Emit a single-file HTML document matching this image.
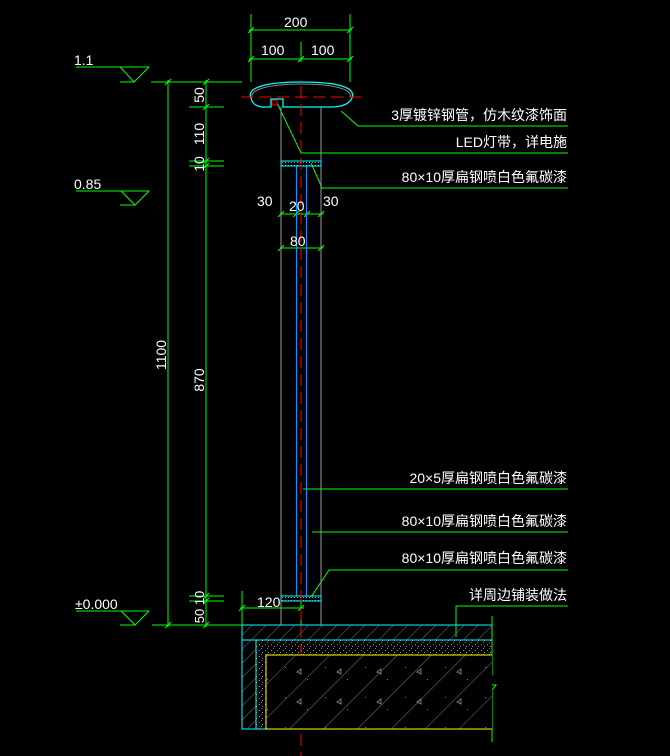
<!DOCTYPE html>
<html><head><meta charset="utf-8"><style>
html,body{margin:0;padding:0;background:#000;width:670px;height:756px;overflow:hidden}
svg text{font-family:"Liberation Sans","Noto Sans CJK SC",sans-serif;fill:#fff}
</style></head><body>
<svg width="670" height="756" viewBox="0 0 670 756" xmlns="http://www.w3.org/2000/svg">
<defs>
<pattern id="h1" width="10" height="10" patternUnits="userSpaceOnUse" patternTransform="rotate(45)">
<line x1="0" y1="0" x2="0" y2="10" stroke="#777" stroke-width="1"/></pattern>
<pattern id="h2" width="24" height="24" patternUnits="userSpaceOnUse" patternTransform="rotate(45)">
<line x1="0" y1="0" x2="0" y2="24" stroke="#777" stroke-width="1"/></pattern>
<pattern id="dots" width="6" height="6" patternUnits="userSpaceOnUse">
<rect x="1" y="2" width="1" height="1" fill="#888"/><rect x="4" y="4" width="1" height="1" fill="#999"/><rect x="3" y="0" width="1" height="1" fill="#777"/></pattern>
<pattern id="sp" width="40" height="30" patternUnits="userSpaceOnUse">
<rect x="5" y="7" width="1" height="1" fill="#888"/><rect x="27" y="19" width="1" height="1" fill="#888"/>
<path d="M17,12 l4,-3 l0,5 z" stroke="#777" fill="none" stroke-width="1"/></pattern>
<pattern id="xh" width="3" height="3" patternUnits="userSpaceOnUse"><rect width="1" height="1" fill="#999"/></pattern>
</defs>
<g fill="none" stroke-width="1">
<g stroke="#0f0">
<line x1="76" y1="67" x2="149" y2="67"/><polyline points="120,67 134,82 149,67"/><line x1="120" y1="82" x2="134" y2="82"/>
<line x1="76" y1="191" x2="149" y2="191"/><polyline points="121,191 135,205 149,191"/><line x1="120" y1="205" x2="135" y2="205"/>
<line x1="76" y1="611" x2="149" y2="611"/><polyline points="121,611 135,625 149,611"/><line x1="120" y1="625" x2="135" y2="625"/>
<line x1="151" y1="82" x2="242" y2="82"/>
<line x1="152" y1="625" x2="242" y2="625"/>
<line x1="168" y1="80" x2="168" y2="627"/>
<line x1="206" y1="80" x2="206" y2="627"/>
<line x1="189" y1="107" x2="224" y2="107"/>
<line x1="189" y1="161" x2="224" y2="161"/>
<line x1="189" y1="166" x2="224" y2="166"/>
<line x1="189" y1="596" x2="224" y2="596"/>
<line x1="189" y1="601" x2="224" y2="601"/>
<line x1="251" y1="14" x2="251" y2="82"/><line x1="350" y1="14" x2="350" y2="82"/>
<line x1="249" y1="30" x2="352" y2="30"/><line x1="249" y1="59" x2="352" y2="59"/>
<line x1="301" y1="42" x2="301" y2="62"/>
<line x1="280" y1="214" x2="323" y2="214"/><line x1="280" y1="248" x2="323" y2="248"/>
<line x1="296.5" y1="205" x2="296.5" y2="252"/><line x1="306.5" y1="205" x2="306.5" y2="252"/>
<line x1="242" y1="591" x2="242" y2="630"/><line x1="240" y1="608" x2="304" y2="608"/>
<line x1="301" y1="590" x2="301" y2="625"/>
<polyline points="341,111 358,126 568,126"/>
<polyline points="277,103 301,153 568,153"/>
<polyline points="311,163 322,188 568,188"/>
<line x1="303" y1="489" x2="568" y2="489"/>
<line x1="312" y1="532" x2="568" y2="532"/>
<polyline points="311,597 329,570 568,570"/>
<polyline points="456,637 456,606 568,606"/>
<polyline points="492,616 492,675 481,685 496,685 492,690 492,742"/>
</g>
<g stroke="#0f0">
<line x1="165" y1="85" x2="171" y2="79"/><line x1="203" y1="85" x2="209" y2="79"/>
<line x1="203" y1="110" x2="209" y2="104"/><line x1="203" y1="164" x2="209" y2="158"/>
<line x1="203" y1="169" x2="209" y2="163"/><line x1="203" y1="599" x2="209" y2="593"/>
<line x1="203" y1="604" x2="209" y2="598"/><line x1="165" y1="628" x2="171" y2="622"/><line x1="203" y1="628" x2="209" y2="622"/>
<line x1="248" y1="33" x2="254" y2="27"/><line x1="347" y1="33" x2="353" y2="27"/>
<line x1="248" y1="62" x2="254" y2="56"/><line x1="298" y1="62" x2="304" y2="56"/><line x1="347" y1="62" x2="353" y2="56"/>
<line x1="278" y1="217" x2="284" y2="211"/><line x1="293" y1="217" x2="299" y2="211"/><line x1="304" y1="217" x2="310" y2="211"/><line x1="318" y1="217" x2="324" y2="211"/>
<line x1="278" y1="251" x2="284" y2="245"/><line x1="318" y1="251" x2="324" y2="245"/>
<line x1="239" y1="611" x2="245" y2="605"/><line x1="298" y1="611" x2="304" y2="605"/>
</g>
<line x1="281" y1="107" x2="281" y2="625" stroke="#999"/>
<line x1="321" y1="107" x2="321" y2="625" stroke="#999"/>
<line x1="296.5" y1="166" x2="296.5" y2="596" stroke="#09f"/>
<line x1="306.5" y1="166" x2="306.5" y2="596" stroke="#09f"/>
<rect x="281" y="161" width="40" height="5" fill="url(#xh)" stroke="#0ff"/>
<rect x="281" y="596" width="40" height="5" fill="url(#xh)" stroke="#0ff"/>
<path d="M251,98 C246,88 265,82 301,82 C340,82 356,88 352,98 C349,105 340,107 330,107 L283,107 L283,99 L271,99 L271,107 L262,107 C255,106 252,103 251,98 Z" stroke="#0ff" stroke-width="1.3"/>
<path d="M252,97 C250,90 268,84 301,84 C336,84 353,90 350,97" stroke="#888"/>
<rect x="272" y="100" width="5" height="5" stroke="#f00"/>
<line x1="301" y1="86" x2="301" y2="756" stroke="#f00" stroke-dasharray="12,6"/>
<line x1="241" y1="97" x2="361" y2="97" stroke="#f00" stroke-dasharray="12,6"/>
<rect x="242" y="625" width="250" height="15" fill="url(#h1)"/>
<rect x="242" y="640" width="14" height="89" fill="url(#h1)"/>
<rect x="256" y="640" width="236" height="89" fill="url(#dots)"/>
<rect x="266" y="655" width="226" height="74" fill="#000"/>
<rect x="266" y="655" width="226" height="74" fill="url(#h2)"/>
<rect x="266" y="655" width="226" height="74" fill="url(#sp)"/>
<line x1="242" y1="625" x2="492" y2="625" stroke="#0ff"/>
<line x1="242" y1="640" x2="492" y2="640" stroke="#0ff"/>
<polyline points="242,625 242,729 266,729" stroke="#0ff"/>
<line x1="256" y1="640" x2="256" y2="729" stroke="#0ff"/>
<polyline points="492,655 266,655 266,729 492,729" stroke="#ff0"/>
</g>
<g font-size="14">
<text x="74" y="65">1.1</text>
<text x="74" y="189">0.85</text>
<text x="75" y="609">±0.000</text>
<text x="284" y="27">200</text>
<text x="261" y="55">100</text>
<text x="311" y="55">100</text>
<text x="257" y="206">30</text>
<text x="289" y="211">20</text>
<text x="323" y="206">30</text>
<text x="290" y="246">80</text>
<text x="257" y="607">120</text>
<text transform="translate(204,95) rotate(-90)" text-anchor="middle">50</text>
<text transform="translate(204,134) rotate(-90)" text-anchor="middle">110</text>
<text transform="translate(204,164) rotate(-90)" text-anchor="middle">10</text>
<text transform="translate(204,380) rotate(-90)" text-anchor="middle">870</text>
<text transform="translate(166,355) rotate(-90)" text-anchor="middle">1100</text>
<text transform="translate(204,598) rotate(-90)" text-anchor="middle" font-size="13">10</text>
<text transform="translate(204,616) rotate(-90)" text-anchor="middle" font-size="13">50</text>
<g text-anchor="end">
<text x="567" y="120">3厚镀锌钢管，仿木纹漆饰面</text>
<text x="567" y="147">LED灯带，详电施</text>
<text x="567" y="182">80×10厚扁钢喷白色氟碳漆</text>
<text x="567" y="483">20×5厚扁钢喷白色氟碳漆</text>
<text x="567" y="526">80×10厚扁钢喷白色氟碳漆</text>
<text x="567" y="563">80×10厚扁钢喷白色氟碳漆</text>
<text x="567" y="600">详周边铺装做法</text>
</g>
</g>
</svg>
</body></html>
